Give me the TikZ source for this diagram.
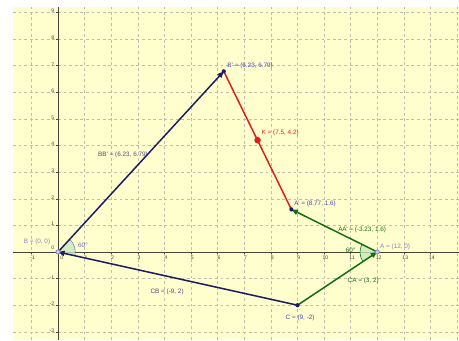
\documentclass[tikz,border=0pt]{standalone}
\usepackage{fontspec}
\setmainfont{Liberation Sans}
\usetikzlibrary{arrows.meta, calc}

\definecolor{bgyellow}{RGB}{255,255,206}
\definecolor{gridgray}{RGB}{190,190,172}
\definecolor{axisgray}{RGB}{70,70,55}
\definecolor{vecnavy}{RGB}{28,28,102}
\definecolor{vecgreen}{RGB}{20,110,20}
\definecolor{segred}{RGB}{225,30,30}
\definecolor{ptblue}{RGB}{70,70,180}
\definecolor{ptpale}{RGB}{130,130,190}
\definecolor{sector}{RGB}{200,230,190}

\begin{document}
\begin{tikzpicture}[
    x=1cm, y=1cm,
    gridline/.style={gridgray, dashed, line width=0.5pt},
    axis/.style={axisgray, line width=0.9pt},
    ticklab/.style={font=\fontsize{5.5}{6}\selectfont, text=axisgray, inner sep=1pt},
    lab/.style={font=\fontsize{6.8}{8}\selectfont, inner sep=0pt},
    navyvec/.style={vecnavy, line width=1.6pt, -{Triangle[length=7pt, width=5.5pt]}},
    greenvec/.style={vecgreen, line width=1.6pt, -{Triangle[length=7pt, width=5.5pt]}},
    seg/.style={segred, line width=1.6pt},
    dot/.style={circle, fill=vecnavy, inner sep=0pt, minimum size=4.5pt},
    hollow/.style={circle, draw=ptpale, fill=ptpale!40, line width=0.8pt, inner sep=0pt, minimum size=4.5pt},
    angsec/.style={fill=sector, fill opacity=0.8},
]

% Frame
\useasboundingbox (-2.18,-3.31) rectangle (15.07,9.47);
\fill[bgyellow] (-1.69,-3.31) rectangle (15.07,9.21);

% Grid
\foreach \i in {-1,...,15} \draw[gridline] (\i,-3.31) -- (\i,9.21);
\foreach \j in {-3,...,9} \draw[gridline] (-1.69,\j) -- (15.07,\j);

% Axes
\draw[axis] (-1.69,0) -- (15.07,0);
\draw[axis] (0,-3.31) -- (0,9.21);
\foreach \i in {-1,1,2,...,14} {
    \draw[axis, line width=0.5pt] (\i,0) -- (\i,-0.08);
    \node[ticklab, anchor=north] at (\i+0.05,-0.1) {\i};
}
\foreach \j in {-3,-2,-1,1,2,...,9} {
    \draw[axis, line width=0.5pt] (0,\j) -- (-0.08,\j);
    \node[ticklab, anchor=east] at (-0.1,\j+0.05) {\j};
}
\node[ticklab, anchor=north west] at (0.05,-0.1) {0};
\node[ticklab, anchor=south east] at (-0.1,0.05) {0};

% Points
\coordinate (B) at (0,0);
\coordinate (Bp) at (6.23,6.79);
\coordinate (K) at (7.5,4.2);
\coordinate (Ap) at (8.77,1.6);
\coordinate (A) at (12,0);
\coordinate (C) at (9,-2);

% Angle sectors
\fill[angsec] (B) -- ++(-12.53:0.65) arc[start angle=-12.53, end angle=47.47, radius=0.65] -- cycle;
\draw[ptblue!70, line width=0.6pt] ($(B)+(-12.53:0.65)$) arc[start angle=-12.53, end angle=47.47, radius=0.65];
\fill[angsec] (A) -- ++(153.65:0.65) arc[start angle=153.65, end angle=213.69, radius=0.65] -- cycle;
\draw[vecgreen, line width=0.6pt] ($(A)+(153.65:0.65)$) arc[start angle=153.65, end angle=213.69, radius=0.65];

% Segment and vectors
\draw[seg] (Bp) -- (Ap);
\draw[navyvec] (B) -- (Bp);
\draw[navyvec] (C) -- (B);
\draw[greenvec] (C) -- (A);
\draw[greenvec] (A) -- (Ap);

% Point marks
\node[hollow] (Bdot) at (B) {};
\node[hollow] (Adot) at (A) {};
\node[dot] (Bpdot) at (Bp) {};
\node[dot] (Apdot) at (Ap) {};
\node[dot] (Cdot) at (C) {};
\node[circle, fill=segred, inner sep=0pt, minimum size=7pt] (Kdot) at (K) {};

% Point labels
\node[lab, text=ptpale] at (-0.79,0.38) {B = (0, 0)};
\node[lab, text=ptblue] at (7.22,7.0) {B' = (6.23, 6.79)};
\node[lab, text=segred] at (8.35,4.47) {K = (7.5, 4.2)};
\node[lab, text=ptblue] at (9.66,1.8) {A' = (8.77, 1.6)};
\node[lab, text=ptpale] at (12.67,0.19) {A = (12, 0)};
\node[lab, text=ptblue] at (9.1,-2.48) {C = (9, -2)};

% Vector labels
\node[lab, text=vecnavy!80] at (2.44,3.65) {BB' = (6.23, 6.79)};
\node[lab, text=vecnavy!80] at (4.1,-1.5) {CB = (-9, 2)};
\node[lab, text=vecgreen] at (11.43,0.83) {AA' = (-3.23, 1.6)};
\node[lab, text=vecgreen] at (11.47,-1.09) {CA = (3, 2)};

% Angle labels
\node[lab, text=ptblue!80] at (0.94,0.26) {60°};
\node[lab, text=vecgreen] at (11.0,0.08) {60°};

\end{tikzpicture}
\end{document}
